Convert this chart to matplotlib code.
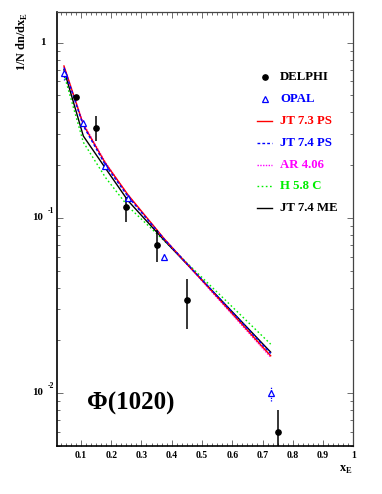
import matplotlib
matplotlib.use("Agg")
import matplotlib.pyplot as plt
from matplotlib.ticker import MultipleLocator, LogLocator, NullFormatter, FixedLocator
import matplotlib.transforms as mtransforms
import numpy as np

plt.rcParams["mathtext.fontset"] = "custom"
plt.rcParams["mathtext.bf"] = "Liberation Serif:bold"
plt.rcParams["mathtext.rm"] = "Liberation Serif:bold"

# ---------------- data ----------------
delphi_x = [0.083, 0.150, 0.250, 0.350, 0.450, 0.750]
delphi_y = [0.490, 0.326, 0.115, 0.070, 0.0339, 0.00596]
delphi_up = [0.012, 0.054, 0.017, 0.0155, 0.0107, 0.0020]
delphi_dn = [0.012, 0.051, 0.020, 0.014, 0.0107, 0.0026]

opal_x = [0.045, 0.108, 0.181, 0.256, 0.375, 0.727]
opal_y = [0.674, 0.349, 0.198, 0.130, 0.0598, 0.00995]
opal_up = [0.020, 0.012, 0.006, 0.004, 0.0025, 0.0010]
opal_dn = [0.060, 0.012, 0.006, 0.004, 0.0025, 0.0009]

model_x = [0.044, 0.108, 0.181, 0.256, 0.375, 0.727]
jt73ps = [0.736, 0.340, 0.205, 0.135, 0.0760, 0.0163]
jt74ps = [0.720, 0.335, 0.200, 0.132, 0.0755, 0.0168]
ar406 = [0.730, 0.345, 0.207, 0.134, 0.0758, 0.0160]
h58c = [0.660, 0.270, 0.170, 0.116, 0.0740, 0.0190]
jt74me = [0.700, 0.293, 0.192, 0.125, 0.0745, 0.0171]

yticks_major = [1.0, 0.1, 0.01]
ytick_text = [("1", ""), ("10", "-1"), ("10", "-2")]
xticks_major = [0.1, 0.2, 0.3, 0.4, 0.5, 0.6, 0.7, 0.8, 0.9, 1.0]
xtick_labels = ["0.1", "0.2", "0.3", "0.4", "0.5", "0.6", "0.7", "0.8", "0.9", "1"]

legend_labels = ["DELPHI", "OPAL", "JT 7.3 PS", "JT 7.4 PS", "AR 4.06", "H 5.8 C", "JT 7.4 ME"]
legend_colors = ["black", "#0000ff", "#ff0000", "#0000ff", "#ff00ff", "#00ee00", "black"]

# ---------------- figure ----------------
W, H = 382, 494
fig = plt.figure(figsize=(W / 100, H / 100), dpi=100)
L, R, T, B = 57.3, 353.3, 12.3, 445.7
ax = fig.add_axes([L / W, 1 - B / H, (R - L) / W, (B - T) / H])
ax.set_yscale("log")
ax.set_xlim(0.022, 1.0)
ax.set_ylim(0.005, 1.49)

serif = ["Liberation Serif", "DejaVu Serif"]

# models
ax.plot(model_x, h58c, color="#00ee00", lw=1.0, ls=(0, (1.2, 1.8)), zorder=2)
ax.plot(model_x, jt74me, color="black", lw=1.0, zorder=3)
ax.plot(model_x, ar406, color="#ff00ff", lw=1.0, ls=(0, (1, 1)), zorder=3)
ax.plot(model_x, jt73ps, color="#ff0000", lw=1.0, zorder=3)
ax.plot(model_x, jt74ps, color="#0000ff", lw=1.0, ls=(0, (2, 1.5)), zorder=4)

# DELPHI
ax.errorbar(delphi_x, delphi_y, yerr=[delphi_dn, delphi_up], fmt="o", color="black",
            ms=3.8, elinewidth=1.1, capsize=0, zorder=6, clip_on=True)
# OPAL
eb = ax.errorbar(opal_x, opal_y, yerr=[opal_dn, opal_up], fmt="^", color="#0000ff",
                 mfc="white", mec="#0000ff", ms=5.0, mew=0.9, elinewidth=0.9,
                 capsize=0, zorder=7)
for lc in eb[2]:
    lc.set_linestyle((0, (1, 1)))

# axes styling
for s in ["left", "bottom"]:
    ax.spines[s].set_linewidth(1.2)
for s in ["top", "right"]:
    ax.spines[s].set_linewidth(0.9)
    ax.spines[s].set_color("#444444")

ax.xaxis.set_major_locator(FixedLocator(xticks_major))
ax.xaxis.set_minor_locator(MultipleLocator(0.1 / 6))
ax.yaxis.set_major_locator(LogLocator(base=10, subs=(1.0,)))
ax.yaxis.set_minor_locator(LogLocator(base=10, subs=np.arange(2, 10)))
ax.yaxis.set_minor_formatter(NullFormatter())
ax.yaxis.set_major_formatter(NullFormatter())
ax.set_xticklabels(xtick_labels, fontfamily=serif, fontweight="bold", fontsize=7)
ax.tick_params(which="both", direction="in", top=True, right=True, color="#555555")
ax.tick_params(which="major", length=4.0, width=0.6, pad=3.5)
ax.tick_params(which="minor", length=2.0, width=0.6)

# y tick labels (ROOT style)
trans = mtransforms.blended_transform_factory(ax.transAxes, ax.transData)
for yv, (base, sup) in zip(yticks_major, ytick_text):
    if sup == "":
        ax.text(-0.038, yv, base, transform=trans, ha="right", va="center",
                fontfamily=serif, fontweight="bold", fontsize=7.8)
    else:
        ax.text(-0.047, yv, base, transform=trans, ha="right", va="center",
                fontfamily=serif, fontweight="bold", fontsize=7.8)
        t = ax.text(-0.032, yv, sup, transform=trans, ha="left", va="center",
                    fontfamily=serif, fontweight="bold", fontsize=5.5)
        t.set_transform(trans + mtransforms.ScaledTranslation(0, 7 / 100, fig.dpi_scale_trans))

# axis labels
fig.text(22 / W, 1 - 12 / H, r"1/N dn/dx$_\mathbf{E}$", rotation=90, ha="center", va="top",
         fontfamily=serif, fontweight="bold", fontsize=8.8)
fig.text(352 / W, 1 - 470 / H, r"x$_\mathbf{E}$", ha="right", va="center",
         fontfamily=serif, fontweight="bold", fontsize=8.8)

# Phi label
ax.text((86.7 - L) / (R - L), (B - 403) / (B - T), "Φ(1020)", transform=ax.transAxes,
        ha="left", va="center", fontfamily=serif, fontweight="bold", fontsize=18)

# legend (manual)
def fx(px):
    return (px - L) / (R - L)

def fy(py):
    return (B - py) / (B - T)

row0, dy = 77.5, 21.8
styles = [
    dict(marker="o", ls="none", color="black", ms=3.8),
    dict(marker="^", ls="none", color="#0000ff", mfc="white", ms=5.0, mew=0.9),
    dict(color="#ff0000", lw=1.0),
    dict(color="#0000ff", lw=1.0, ls=(0, (2, 1.5))),
    dict(color="#ff00ff", lw=1.0, ls=(0, (1, 1))),
    dict(color="#00ee00", lw=1.0, ls=(0, (1.2, 1.8))),
    dict(color="black", lw=1.0),
]
for i, (lab, col, st) in enumerate(zip(legend_labels, legend_colors, styles)):
    py = row0 + i * dy
    if i < 2:
        ax.plot([fx(265)], [fy(py)], transform=ax.transAxes, clip_on=False, **st)
    else:
        ax.plot([fx(257), fx(272)], [fy(py), fy(py)], transform=ax.transAxes,
                clip_on=False, **st)
    ax.text(fx(280), fy(py), lab, transform=ax.transAxes, ha="left", va="center",
            color=col, fontfamily=serif, fontweight="bold", fontsize=9.2)

fig.savefig("out.png", dpi=100)
